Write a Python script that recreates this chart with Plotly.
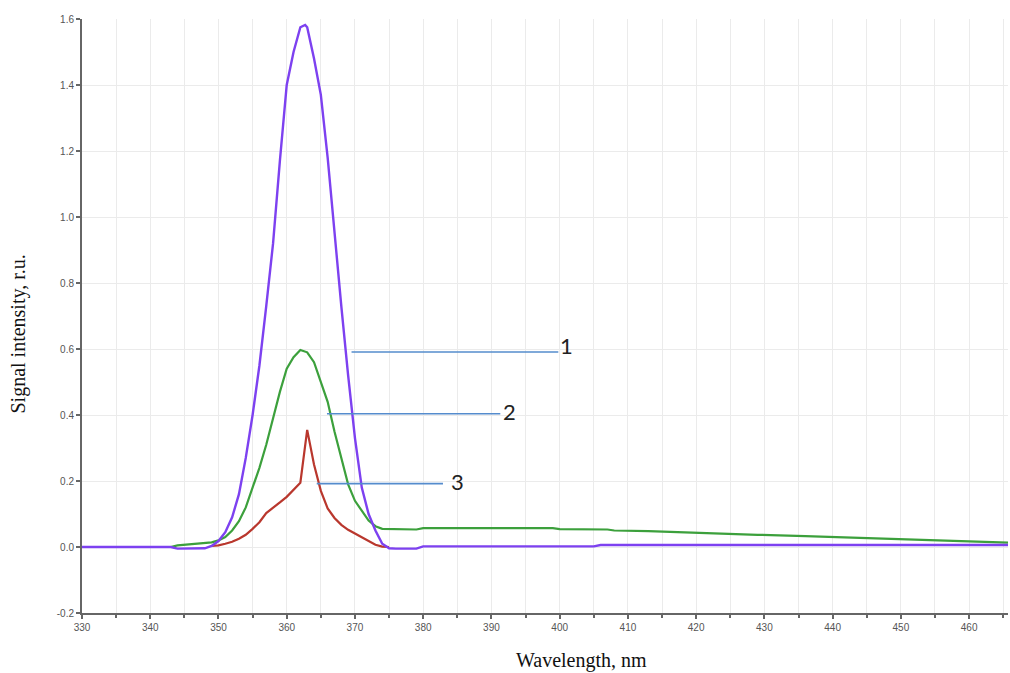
import plotly.graph_objects as go

# ---- data ----
purple_x = [330, 343, 344, 347, 348, 349, 350, 351, 352, 353, 354, 355, 356, 357, 358, 359, 360,
            361, 362, 362.7, 363, 364, 365, 366, 367, 368, 369, 370, 371, 372, 373, 374, 375,
            376, 379, 380, 405, 406, 466]
purple_y = [0, 0, -0.005, -0.005, -0.004, 0.003, 0.018, 0.045, 0.09, 0.16, 0.27, 0.40, 0.55,
            0.73, 0.92, 1.17, 1.40, 1.50, 1.575, 1.582, 1.575, 1.48, 1.37, 1.18, 0.95, 0.73,
            0.52, 0.33, 0.18, 0.10, 0.05, 0.01, -0.004, -0.005, -0.005, 0.002, 0.002, 0.006, 0.006]

green_x = [330, 343, 344, 347, 349, 350, 351, 352, 353, 354, 355, 356, 357, 358, 359, 360, 361,
           362, 363, 364, 365, 366, 367, 368, 369, 370, 371, 372, 373, 374, 379, 380, 399, 400,
           407, 408, 413, 418, 423, 429, 436, 445, 453, 460, 466]
green_y = [0, 0, 0.005, 0.01, 0.014, 0.02, 0.03, 0.05, 0.078, 0.12, 0.18, 0.24, 0.31, 0.39, 0.47,
           0.54, 0.575, 0.597, 0.59, 0.56, 0.50, 0.44, 0.35, 0.27, 0.19, 0.14, 0.11, 0.08, 0.063,
           0.055, 0.053, 0.057, 0.057, 0.054, 0.053, 0.050, 0.048, 0.044, 0.040, 0.037, 0.033,
           0.027, 0.022, 0.016, 0.013]

red_x = [349, 350, 351, 352, 353, 354, 355, 356, 357, 358, 359, 360, 361, 362, 363, 364, 365,
         366, 367, 368, 369, 370, 371, 372, 373, 374, 375]
red_y = [0.003, 0.005, 0.01, 0.016, 0.025, 0.037, 0.055, 0.075, 0.103, 0.118, 0.135, 0.152,
         0.172, 0.195, 0.355, 0.25, 0.17, 0.117, 0.088, 0.067, 0.052, 0.041, 0.029, 0.017,
         0.007, 0.001, 0.0]

x_tickvals = [330, 340, 350, 360, 370, 380, 390, 400, 410, 420, 430, 440, 450, 460]
y_tickvals = [-0.2, 0.0, 0.2, 0.4, 0.6, 0.8, 1.0, 1.2, 1.4, 1.6]
y_ticktext = ["-0.2", "0.0", "0.2", "0.4", "0.6", "0.8", "1.0", "1.2", "1.4", "1.6"]

# curve labels with leader lines
label_text = ["1", "2", "3"]
leader_x0 = [369.5, 365.9, 364.4]
leader_x1 = [399.8, 391.3, 382.9]
leader_y = [0.591, 0.404, 0.192]
label_x = [401.0, 392.7, 385.0]
label_y = [0.612, 0.41, 0.2]

fig = go.Figure()
fig.add_trace(go.Scatter(x=green_x, y=green_y, mode="lines",
                         line=dict(color="rgb(60,160,60)", width=2.2), showlegend=False))
fig.add_trace(go.Scatter(x=red_x, y=red_y, mode="lines",
                         line=dict(color="rgb(185,55,45)", width=2.2), showlegend=False))
fig.add_trace(go.Scatter(x=purple_x, y=purple_y, mode="lines",
                         line=dict(color="rgb(125,65,240)", width=2.4), showlegend=False))

for x0, x1, yy in zip(leader_x0, leader_x1, leader_y):
    fig.add_shape(type="line", x0=x0, x1=x1, y0=yy, y1=yy, xref="x", yref="y",
                  line=dict(color="rgb(85,140,205)", width=1.6))
for t, lx, ly in zip(label_text, label_x, label_y):
    fig.add_annotation(x=lx, y=ly, text=t, showarrow=False, xref="x", yref="y",
                       xanchor="center", yanchor="middle",
                       font=dict(family="Lato, Open Sans, sans-serif", size=22, color="#222"))

fig.add_annotation(x=0.539, y=-0.08, xref="paper", yref="paper", text="Wavelength, nm",
                   showarrow=False, xanchor="center", yanchor="middle",
                   font=dict(family="Liberation Serif, Times New Roman, serif", size=20, color="#111"))
fig.add_annotation(x=-0.069, y=0.469, xref="paper", yref="paper", text="Signal intensity, r.u.",
                   showarrow=False, xanchor="center", yanchor="middle", textangle=-90,
                   font=dict(family="Liberation Serif, Times New Roman, serif", size=20, color="#111"))

fig.update_xaxes(range=[330, 465.7], tickvals=x_tickvals, ticks="outside", ticklen=4,
                 tickcolor="#666", tickwidth=1.5,
                 showline=True, linecolor="#666", linewidth=2,
                 showgrid=True, gridcolor="#ebebeb", gridwidth=1, zeroline=False,
                 minor=dict(dtick=5, tick0=330, showgrid=True, gridcolor="#ebebeb",
                            ticks="outside", ticklen=3, tickcolor="#666"),
                 tickfont=dict(family="Liberation Sans, Arial, sans-serif", size=10, color="#555"))
fig.update_yaxes(range=[-0.2, 1.6], tickvals=y_tickvals, ticktext=y_ticktext,
                 ticks="outside", ticklen=4, tickcolor="#666", tickwidth=1.5,
                 showline=True, linecolor="#666", linewidth=2,
                 showgrid=True, gridcolor="#ebebeb", gridwidth=1, zeroline=False,
                 tickfont=dict(family="Liberation Sans, Arial, sans-serif", size=10, color="#555"))

fig.update_layout(width=1010, height=673, margin=dict(l=82, r=2, t=19, b=60),
                  plot_bgcolor="white", paper_bgcolor="white")

fig.write_html("out.html", config={"displayModeBar": False},
               post_script="document.body.style.margin='0';document.body.style.overflow='hidden';")
